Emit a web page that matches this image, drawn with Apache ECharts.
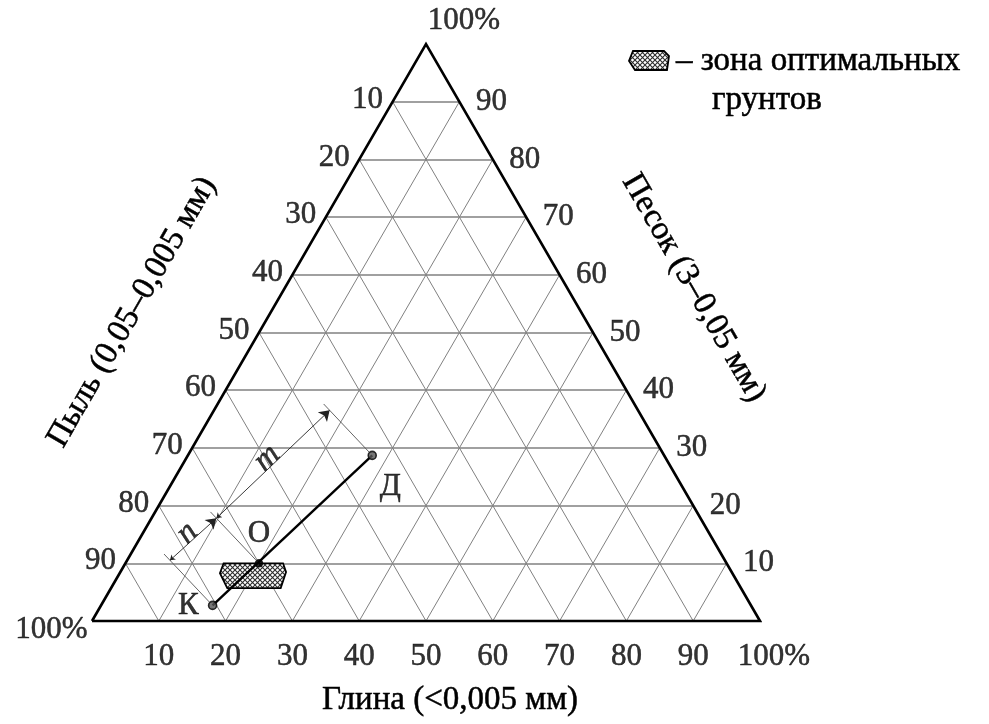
<!DOCTYPE html>
<html>
<head>
<meta charset="utf-8">
<script src="https://cdn.jsdelivr.net/npm/echarts@6/dist/echarts.min.js"></script>
<style>
  html, body { margin: 0; padding: 0; background: #fff; }
  #chart { width: 989px; height: 724px; }
</style>
</head>
<body>
<div id="chart"></div>
<script>
// Ternary soil diagram: sand at the top, silt at bottom-left, clay at bottom-right (percent)
const gridSteps = [10, 20, 30, 40, 50, 60, 70, 80, 90];
const siltTickLabels = ['10', '20', '30', '40', '50', '60', '70', '80', '90'];
const sandTickLabels = ['10', '20', '30', '40', '50', '60', '70', '80', '90'];
const clayTickLabels = ['10', '20', '30', '40', '50', '60', '70', '80', '90'];
const cornerLabel = '100%';

// Soils: К – clay component, О – optimal mix, Д – additive
const pointNames = ['К', 'О', 'Д'];
const pointSand = [2.7, 10, 28.7];
const pointClay = [16.7, 20, 27.6];

// Zone of optimal soils (polygon vertices)
const zoneSand = [10.0, 10.0, 8.5, 5.7, 5.7, 8.3];
const zoneClay = [14.7, 23.6, 24.8, 25.4, 17.4, 15.0];

// Proportion segments along К–Д
const segmentNames = ['n', 'm'];

const axisTitles = {
  clay: 'Глина (<0,005 мм)',
  silt: 'Пыль (0,05–0,005 мм)',
  sand: 'Песок (3–0,05 мм)'
};
const legendLines = ['– зона оптимальных', 'грунтов'];

const FONT = '"Liberation Serif", "Times New Roman", serif';
const TICK_SIZE = 31, TITLE_SIZE = 33;
const INK = 0.5; // slight outline to give the serif text a heavier print look
const SQ = Math.sqrt(3) / 2;

// (sand, clay) -> cartesian data coordinates: x = clay + sand/2, y = sand
function toXY(sand, clay) { return [clay + sand / 2, sand]; }
// equilateral space (u, v) <-> data coordinates
function toUV(p) { return [p[0], p[1] * SQ]; }
function fromUV(q) { return [q[0], q[1] / SQ]; }

function hatchPattern() {
  const c = document.createElement('canvas');
  c.width = c.height = 5;
  const g = c.getContext('2d');
  g.fillStyle = '#ffffff';
  g.fillRect(0, 0, 5, 5);
  g.strokeStyle = '#2e2e2e';
  g.lineWidth = 1.1;
  g.beginPath();
  g.moveTo(0, 0); g.lineTo(5, 5);
  g.moveTo(5, 0); g.lineTo(0, 5);
  g.stroke();
  return c;
}
const pattern = { image: hatchPattern(), repeat: 'repeat' };

// Grid lines
const hLines = [], dLines = [];
gridSteps.forEach(k => {
  hLines.push({ coords: [toXY(k, 0), toXY(k, 100 - k)] });          // constant sand
  dLines.push({ coords: [toXY(0, k), toXY(100 - k, k)] });          // constant clay
  dLines.push({ coords: [toXY(0, 100 - k), toXY(100 - k, 0)] });    // constant silt
});
const frame = [toXY(0, 0), toXY(0, 100), toXY(100, 0), toXY(0, 0)];

// Points
const pts = pointNames.map((n, i) => toXY(pointSand[i], pointClay[i]));
const zonePts = zoneSand.map((s, i) => toXY(s, zoneClay[i]));

// Dimension lines parallel to К–Д, offset to the upper-left
const uvK = toUV(pts[0]), uvD = toUV(pts[2]);
const dirLen = Math.hypot(uvD[0] - uvK[0], uvD[1] - uvK[1]);
const dir = [(uvD[0] - uvK[0]) / dirLen, (uvD[1] - uvK[1]) / dirLen];
const nrm = [-dir[1], dir[0]];
const OFF = 9.3, EXT_START = 0.7, EXT_END = 10.6;
function shift(p, d) { const q = toUV(p); return fromUV([q[0] + nrm[0] * d, q[1] + nrm[1] * d]); }
const extLines = pts.map(p => ({ coords: [shift(p, EXT_START), shift(p, EXT_END)] }));
const dimPts = pts.map(p => shift(p, OFF));
const dimSegs = [
  { coords: [dimPts[0], dimPts[1]] },
  { coords: [dimPts[1], dimPts[2]] }
];
const segLabelPts = segmentNames.map((name, i) => {
  const a = toUV(dimPts[i]), b = toUV(dimPts[i + 1]);
  const mid = [(a[0] + b[0]) / 2 + nrm[0] * 1.3, (a[1] + b[1]) / 2 + nrm[1] * 1.3];
  return fromUV(mid).concat([name]);
});
const segAngle = Math.atan2(dir[1], dir[0]) * 180 / Math.PI;

const textBase = { fontFamily: FONT, fontSize: TICK_SIZE, color: '#000',
                   textBorderColor: '#000', textBorderWidth: INK };
function labelSeries(data, label) {
  return {
    type: 'scatter', data: data, symbolSize: 1, clip: false, silent: true, z: 10,
    itemStyle: { color: 'rgba(0,0,0,0)' },
    label: Object.assign({ show: true, formatter: p => p.value[2] }, textBase, label)
  };
}
function titleStyle(text, align) {
  return { text: text, align: align || 'center', verticalAlign: 'middle',
           font: TITLE_SIZE + 'px ' + FONT, fill: '#000', stroke: '#000', lineWidth: INK };
}

const chart = echarts.init(document.getElementById('chart'), null, { renderer: 'canvas' });
chart.setOption({
  backgroundColor: '#ffffff',
  animation: false,
  grid: { left: 92, top: 44, width: 668, height: 577 },
  xAxis: { type: 'value', min: 0, max: 100, show: false },
  yAxis: { type: 'value', min: 0, max: 100, show: false },
  series: [
    { type: 'lines', coordinateSystem: 'cartesian2d', data: dLines, silent: true, z: 1,
      lineStyle: { color: '#808080', width: 1, opacity: 1 } },
    { type: 'lines', coordinateSystem: 'cartesian2d', data: hLines, silent: true, z: 1,
      lineStyle: { color: '#808080', width: 1.5, opacity: 1 } },
    { type: 'line', data: frame, symbol: 'none', clip: false, silent: true, z: 3,
      lineStyle: { color: '#000', width: 2.6, join: 'miter' } },
    // zone of optimal soils
    { type: 'custom', data: zonePts, clip: false, silent: true, z: 4,
      renderItem: (params, api) => {
        if (params.dataIndex !== 0) return null;
        return {
          type: 'polygon',
          shape: { points: zonePts.map(p => api.coord(p)) },
          style: { fill: pattern, stroke: '#000', lineWidth: 1.8 }
        };
      } },
    // extension and dimension lines
    { type: 'lines', coordinateSystem: 'cartesian2d', data: extLines, silent: true, z: 5,
      lineStyle: { color: '#555', width: 0.9, opacity: 1 } },
    { type: 'lines', coordinateSystem: 'cartesian2d', data: dimSegs, silent: true, z: 5,
      symbol: ['arrow', 'arrow'], symbolSize: [5, 10],
      lineStyle: { color: '#222', width: 0.9, opacity: 1 } },
    // К–О–Д line
    { type: 'line', data: [pts[0], pts[2]], symbol: 'none', clip: false, silent: true, z: 6,
      lineStyle: { color: '#000', width: 2.4 } },
    { type: 'scatter', clip: false, silent: true, z: 7,
      data: pts.map((p, i) => ({
        value: p.concat([pointNames[i]]),
        symbolSize: i === 1 ? 7 : 8,
        itemStyle: { color: i === 1 ? '#000' : '#555', borderColor: '#000', borderWidth: 1.6 },
        label: i === 0 ? { position: 'left', distance: 9 }
             : i === 1 ? { position: 'top', distance: 10 }
             : { position: 'bottom', distance: 11, offset: [18, 0] }
      })),
      label: Object.assign({ show: true, formatter: p => p.value[2] }, textBase) },
    // segment names
    labelSeries(segLabelPts, { position: 'inside', rotate: Math.round(segAngle), fontStyle: 'italic', fontSize: 32 }),
    // tick labels
    labelSeries(gridSteps.map((p, i) => toXY(100 - p, 0).concat([siltTickLabels[i]])),
      { position: 'left', distance: 9, offset: [0, -2] }),
    labelSeries(gridSteps.map((s, i) => toXY(s, 100 - s).concat([sandTickLabels[i]])),
      { position: 'right', distance: 16 }),
    labelSeries(gridSteps.map((c, i) => toXY(0, c).concat([clayTickLabels[i]])),
      { position: 'bottom', distance: 20 }),
    labelSeries([toXY(100, 0).concat([cornerLabel])], { position: 'top', distance: 7, offset: [38, 0] }),
    labelSeries([toXY(0, 0).concat([cornerLabel])], { position: 'left', distance: 4, offset: [0, 9] }),
    labelSeries([toXY(0, 100).concat([cornerLabel])], { position: 'bottom', distance: 20, offset: [14, 0] })
  ],
  graphic: [
    { type: 'text', x: 450, y: 700, z: 20, style: titleStyle(axisTitles.clay) },
    { type: 'text', x: 132, y: 312, rotation: Math.PI / 3, z: 20, style: titleStyle(axisTitles.silt) },
    { type: 'text', x: 694, y: 288, rotation: -Math.PI / 3, z: 20, style: titleStyle(axisTitles.sand) },
    // legend
    { type: 'polygon', z: 20,
      shape: { points: [[633, 51], [664, 51], [669, 56], [667, 70], [635, 70], [629, 61]] },
      style: { fill: pattern, stroke: '#000', lineWidth: 1.8 } },
    { type: 'text', x: 676, y: 61, z: 20, style: titleStyle(legendLines[0], 'left') },
    { type: 'text', x: 712, y: 100, z: 20, style: titleStyle(legendLines[1], 'left') }
  ]
});
</script>
</body>
</html>
